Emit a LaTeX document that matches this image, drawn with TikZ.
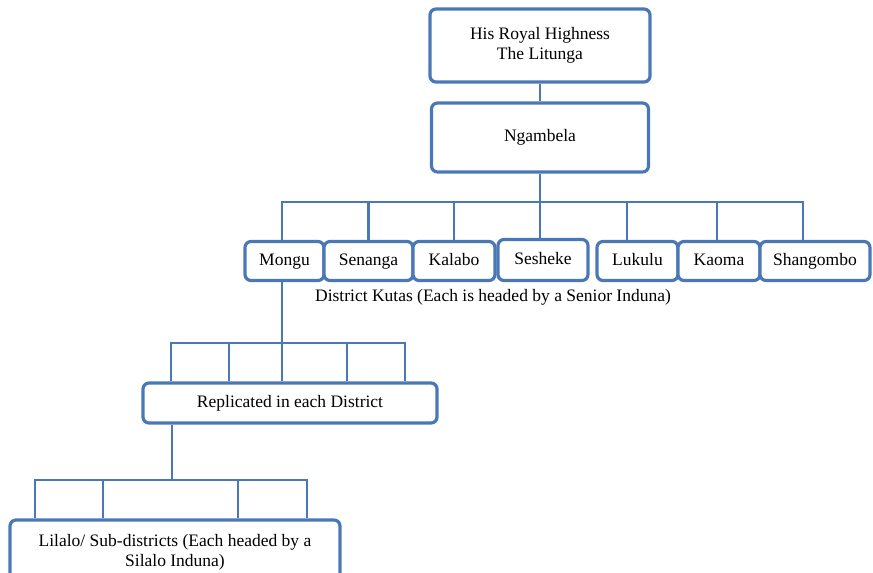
\documentclass[tikz,border=0pt]{standalone}
\usepackage{fontspec}
\setmainfont{Liberation Serif}
\definecolor{orgblue}{HTML}{4A78B6}
\tikzset{
  box/.style={draw=orgblue, line width=3.2pt, rounded corners=6pt, fill=white,
    align=center, inner sep=0pt, font=\fontsize{17.5}{20}\selectfont},
  kuta/.style={box, minimum height=39, text height=12pt, text depth=4pt},
  link/.style={draw=orgblue, line width=2.9pt},
  caption/.style={font=\fontsize{17.5}{20}\selectfont, inner sep=0pt}
}
\begin{document}
\begin{tikzpicture}[x=1pt,y=-1pt]
\useasboundingbox (0,0) rectangle (873,573);

% top of the hierarchy
\node[box, minimum width=220, minimum height=73] (king) at (540,45.5) {His Royal Highness\\The Litunga};
\node[box, minimum width=217, minimum height=69] (ngambela) at (540,137.5) {Ngambela};

% district kutas
\node[kuta, minimum width=79] (mongu) at (284.5,261) {Mongu};
\node[kuta, minimum width=89] (senanga) at (368.5,261) {Senanga};
\node[kuta, minimum width=82] (kalabo) at (454,261) {Kalabo};
\node[kuta, minimum width=90, minimum height=41] (sesheke) at (543,260) {Sesheke};
\node[kuta, minimum width=81] (lukulu) at (637.5,261) {Lukulu};
\node[kuta, minimum width=82] (kaoma) at (719,261) {Kaoma};
\node[kuta, minimum width=110] (shangombo) at (815,261) {Shangombo};
\node[caption] (kutas) at (493,297) {District Kutas (Each is headed by a Senior Induna)};

% lower levels
\node[box, minimum width=294, minimum height=40] (replicated) at (290,403) {Replicated in each District};
\node[box, minimum width=330, minimum height=64] (lilalo) at (175,552) {Lilalo/ Sub-districts (Each headed by a\\Silalo Induna)};

% bus coordinates
\coordinate (busA) at (0,202);
\coordinate (busB) at (0,343);
\coordinate (busC) at (0,480);

% connectors
\draw[link] (king.south) -- (ngambela.north);
\draw[link] (ngambela.south) -- (ngambela.south |- busA);
\draw[link] ([xshift=-2.5pt]mongu.north) |- ([xshift=-12pt]shangombo.north |- busA) -- ([xshift=-12pt]shangombo.north);
\draw[link] (senanga.north) -- (senanga.north |- busA);
\draw[link] (kalabo.north) -- (kalabo.north |- busA);
\draw[link] ([xshift=-3pt]sesheke.north) -- ([xshift=-3pt]sesheke.north |- busA);
\draw[link] ([xshift=-10.5pt]lukulu.north) -- ([xshift=-10.5pt]lukulu.north |- busA);
\draw[link] ([xshift=-2pt]kaoma.north) -- ([xshift=-2pt]kaoma.north |- busA);

% district to replicated structure
\draw[link] ([xshift=-2.5pt]mongu.south) -- ([xshift=-2.5pt]mongu.south |- replicated.north);
\coordinate (r1) at (171,0);
\coordinate (r2) at (229,0);
\coordinate (r4) at (347,0);
\coordinate (r5) at (405,0);
\draw[link] (r1 |- replicated.north) |- (r5 |- busB) -- (r5 |- replicated.north);
\draw[link] (r2 |- replicated.north) -- (r2 |- busB);
\draw[link] (r4 |- replicated.north) -- (r4 |- busB);

% replicated structure to sub-districts
\coordinate (s0) at (172,0);
\coordinate (s1) at (35,0);
\coordinate (s2) at (103,0);
\coordinate (s3) at (238,0);
\coordinate (s4) at (307,0);
\draw[link] (s0 |- replicated.south) -- (s0 |- busC);
\draw[link] (s1 |- lilalo.north) |- (s4 |- busC) -- (s4 |- lilalo.north);
\draw[link] (s2 |- lilalo.north) -- (s2 |- busC);
\draw[link] (s3 |- lilalo.north) -- (s3 |- busC);
\end{tikzpicture}
\end{document}
